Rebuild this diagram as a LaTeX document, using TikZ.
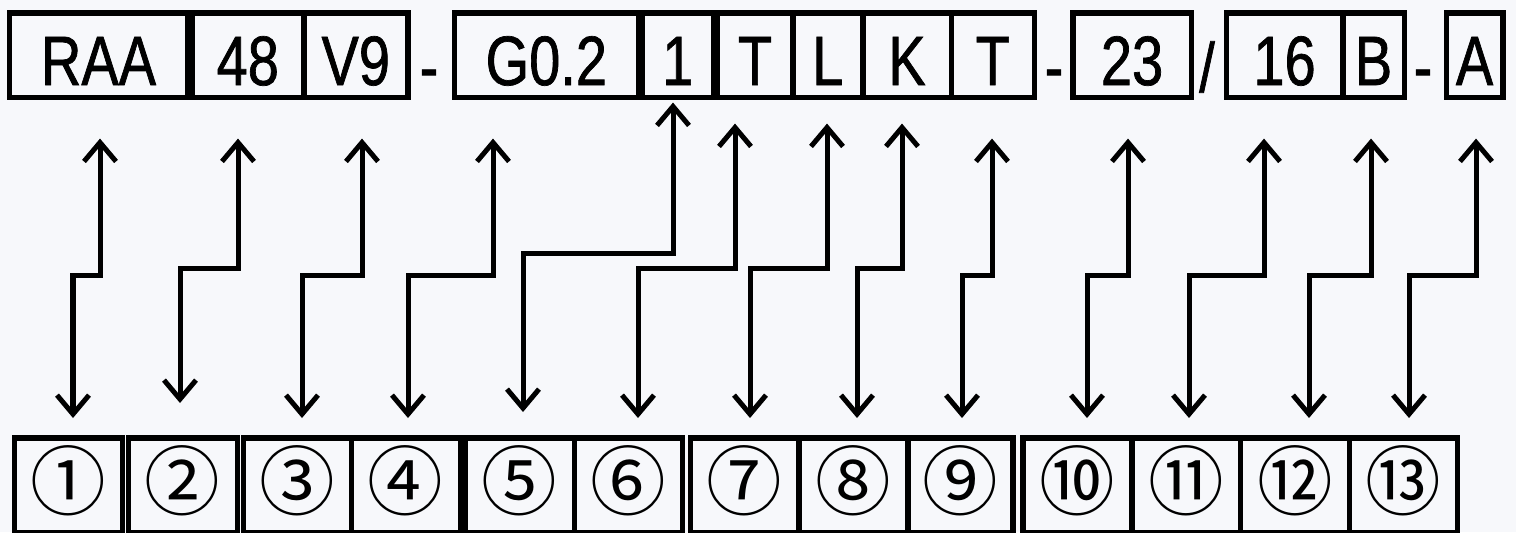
\documentclass[tikz,border=0pt]{standalone}
\usepackage{fontspec}
\setmainfont{Liberation Sans}[FakeStretch=0.8, FakeBold=1]
\newfontfamily\circfont{Noto Sans CJK JP}
\usepackage{tikz}
\definecolor{paper}{RGB}{247, 248, 251}
\usetikzlibrary{arrows.meta}

\begin{document}
\begin{tikzpicture}[
    x=0.01cm, y=-0.01cm,
    code/.style={draw, anchor=north west, line width=0.055cm, inner sep=0pt, minimum height=0.845cm, text height=0.6cm, text depth=0pt, font=\fontsize{19.9}{22}\selectfont},
    item/.style={draw, anchor=north west, line width=0.055cm, inner sep=0pt, minimum height=0.95cm, text height=0.5cm, text depth=0.02cm, font=\circfont\fontsize{21.5}{24}\selectfont},
    sep/.style={anchor=base, inner sep=0pt, font=\fontsize{19.9}{22}\selectfont},
    link/.style={{Straight Barb[length=0.19cm, width=0.32cm]}-{Straight Barb[length=0.19cm, width=0.32cm]}, line width=0.05cm}
]
    \path[use as bounding box, fill=paper] (0,0) rectangle (1516,532);

    % Type code
    \node[code, minimum width=1.785cm] (raa) at (6.5,10) {RAA};
    \node[code, minimum width=1.12cm] (n48) at (189,10) {48};
    \node[code, minimum width=1.04cm] (v9) at (301,10) {V9};
    \node[code, minimum width=1.84cm] (g02) at (451.5,10) {G0.2};
    \node[code, minimum width=0.71cm] (one) at (639.5,10) {1};
    \node[code, minimum width=0.755cm] (tA) at (714.5,10) {T};
    \node[code, minimum width=0.70cm] (ell) at (790,10) {L};
    \node[code, minimum width=0.885cm] (kay) at (860,10) {K};
    \node[code, minimum width=0.83cm] (tB) at (948.5,10) {T};
    \node[code, minimum width=1.185cm] (n23) at (1070,10) {23};
    \node[code, minimum width=1.165cm] (n16) at (1223.5,10) {16};
    \node[code, minimum width=0.615cm] (bee) at (1340,10) {B};
    \node[code, minimum width=0.565cm] (ay) at (1443.5,10) {A};

    % Separators
    \node[sep] (d1) at (429,91) {-};
    \node[sep] (d2) at (1054,91) {-};
    \node[sep] (sl) at (1207,92) {/};
    \node[sep] (d3) at (1423,91) {-};

    % Item numbers
    \node[item, minimum width=1.08cm] (c1) at (11.5,435) {①};
    \node[item, minimum width=1.09cm] (c2) at (125.5,435) {②};
    \node[item, minimum width=1.08cm] (c3) at (240.5,435) {③};
    \node[item, minimum width=1.09cm] (c4) at (348.5,435) {④};
    \node[item, minimum width=1.09cm] (c5) at (462.5,435) {⑤};
    \node[item, minimum width=1.08cm] (c6) at (571.5,435) {⑥};
    \node[item, minimum width=1.085cm] (c7) at (687.5,435) {⑦};
    \node[item, minimum width=1.09cm] (c8) at (796,435) {⑧};
    \node[item, minimum width=1.05cm] (c9) at (905,435) {⑨};
    \node[item, minimum width=1.09cm] (c10) at (1020,435) {⑩};
    \node[item, minimum width=1.085cm] (c11) at (1129,435) {⑪};
    \node[item, minimum width=1.09cm] (c12) at (1237.5,435) {⑫};
    \node[item, minimum width=1.08cm] (c13) at (1346.5,435) {⑬};

    % Links
    \draw[link, shorten <=0.385cm, shorten >=0.17cm] (raa.south -| 100,0) |- (73,275) -- (c1.north -| 73,0);
    \draw[link, shorten <=0.385cm, shorten >=0.32cm] (n48.south -| 238,0) |- (180,268) -- (c2.north -| 180,0);
    \draw[link, shorten <=0.385cm, shorten >=0.17cm] (v9.south -| 362,0) |- (302,275) -- (c3.north -| 302,0);
    \draw[link, shorten <=0.385cm, shorten >=0.17cm] (g02.south -| 493,0) |- (408,275) -- (c4.north -| 408,0);
    \draw[link, shorten <=0.025cm, shorten >=0.23cm] (one.south -| 673,0) |- (523,253) -- (c5.north -| 523,0);
    \draw[link, shorten <=0.235cm, shorten >=0.17cm] (tA.south -| 735,0) |- (638,268) -- (c6.north -| 638,0);
    \draw[link, shorten <=0.235cm, shorten >=0.17cm] (ell.south -| 827,0) |- (750,268) -- (c7.north -| 750,0);
    \draw[link, shorten <=0.235cm, shorten >=0.17cm] (kay.south -| 902,0) |- (857,268) -- (c8.north -| 857,0);
    \draw[link, shorten <=0.385cm, shorten >=0.17cm] (tB.south -| 992,0) |- (962,275) -- (c9.north -| 962,0);
    \draw[link, shorten <=0.385cm, shorten >=0.17cm] (n23.south -| 1128,0) |- (1087,275) -- (c10.north -| 1087,0);
    \draw[link, shorten <=0.385cm, shorten >=0.17cm] (n16.south -| 1264,0) |- (1189,275) -- (c11.north -| 1189,0);
    \draw[link, shorten <=0.385cm, shorten >=0.17cm] (bee.south -| 1371,0) |- (1309,275) -- (c12.north -| 1309,0);
    \draw[link, shorten <=0.385cm, shorten >=0.17cm] (ay.south -| 1476,0) |- (1409,275) -- (c13.north -| 1409,0);
\end{tikzpicture}
\end{document}
